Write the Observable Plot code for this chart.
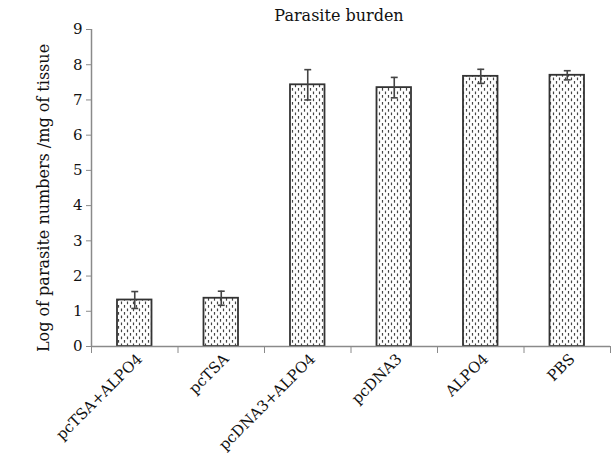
<!DOCTYPE html>
<html>
<head>
<meta charset="utf-8">
<script src="https://cdn.jsdelivr.net/npm/d3@7"></script>
<script src="https://cdn.jsdelivr.net/npm/@observablehq/plot@0.6"></script>
<style>
  html, body { margin: 0; padding: 0; background: #fff; }
  #chart { width: 611px; height: 453px; }
</style>
</head>
<body>
<div id="chart"></div>
<script>
const categories = ["pcTSA+ALPO4", "pcTSA", "pcDNA3+ALPO4", "pcDNA3", "ALPO4", "PBS"];
const means = [1.32, 1.37, 7.43, 7.35, 7.67, 7.70];
const errors = [0.24, 0.20, 0.43, 0.29, 0.20, 0.13];
const yTicks = [0, 1, 2, 3, 4, 5, 6, 7, 8, 9];
const title = "Parasite burden";
const yLabel = "Log of parasite numbers /mg of tissue";

const data = categories.map((c, i) => ({
  cat: c, i, x1: i, x2: i + 1, xc: i + 0.5,
  v: means[i], lo: means[i] - errors[i], hi: means[i] + errors[i]
}));

const font = "DejaVu Serif";
const axisColor = "#8a8a8a";
const barStroke = "#333";

const plot = Plot.plot({
  width: 611,
  height: 453,
  marginLeft: 91,
  marginRight: 1,
  marginTop: 29,
  marginBottom: 107,
  style: { fontFamily: font, fontSize: "15px", color: "#111", background: "#fff" },
  x: { type: "linear", domain: [0, categories.length] },
  y: { domain: [0, 9] },
  marks: [
    () => {
      const svgNS = "http://www.w3.org/2000/svg";
      const defs = document.createElementNS(svgNS, "defs");
      defs.innerHTML = `<pattern id="dash" patternUnits="userSpaceOnUse" width="6" height="7">
        <rect width="6" height="7" fill="#fff"/>
        <line x1="1.5" y1="0.5" x2="1.5" y2="3.2" stroke="#444" stroke-width="1.2"/>
        <line x1="4.5" y1="4" x2="4.5" y2="6.7" stroke="#444" stroke-width="1.2"/>
      </pattern>`;
      return defs;
    },
    Plot.rectY(data, {
      x1: "x1", x2: "x2", y1: 0, y2: "v",
      insetLeft: 26, insetRight: 26,
      fill: "url(#dash)", stroke: barStroke, strokeWidth: 1.8
    }),
    Plot.ruleX(data, { x: "xc", y1: "lo", y2: "hi", stroke: "#444", strokeWidth: 1.6 }),
    Plot.link(data, { x1: d => d.xc - 0.04, x2: d => d.xc + 0.04, y1: "hi", y2: "hi", stroke: "#444", strokeWidth: 1.6 }),
    Plot.link(data, { x1: d => d.xc - 0.04, x2: d => d.xc + 0.04, y1: "lo", y2: "lo", stroke: "#444", strokeWidth: 1.6 }),
    Plot.ruleX([0], { stroke: axisColor, strokeWidth: 1.5 }),
    Plot.ruleY([0], { stroke: axisColor, strokeWidth: 1.5 }),
    Plot.axisY({
      ticks: yTicks, tickSize: 5, tickPadding: 4, stroke: axisColor,
      tickFormat: d3.format("d"), fontSize: 15, fill: "#111", label: null
    }),
    Plot.text([yLabel], {
      frameAnchor: "left", textAnchor: "middle", rotate: -90, dx: -48, dy: 10,
      text: d => d, fontSize: 16, fill: "#111"
    }),
    Plot.axisX({
      ticks: d3.range(categories.length + 1), tickSize: 7, stroke: axisColor,
      tickFormat: () => "", label: null
    }),
    Plot.axisX({
      ticks: data.map(d => d.xc), tickSize: 0, tickPadding: 10, tickRotate: -45,
      dx: 5,
      tickFormat: v => categories[Math.floor(v)], fontSize: 15, fill: "#111", label: null
    }),
    Plot.text([title], {
      frameAnchor: "top", dy: -9, dx: -12, lineAnchor: "bottom",
      text: d => d, fontSize: 16, fill: "#111"
    })
  ]
});

document.getElementById("chart").appendChild(plot);
</script>
</body>
</html>
